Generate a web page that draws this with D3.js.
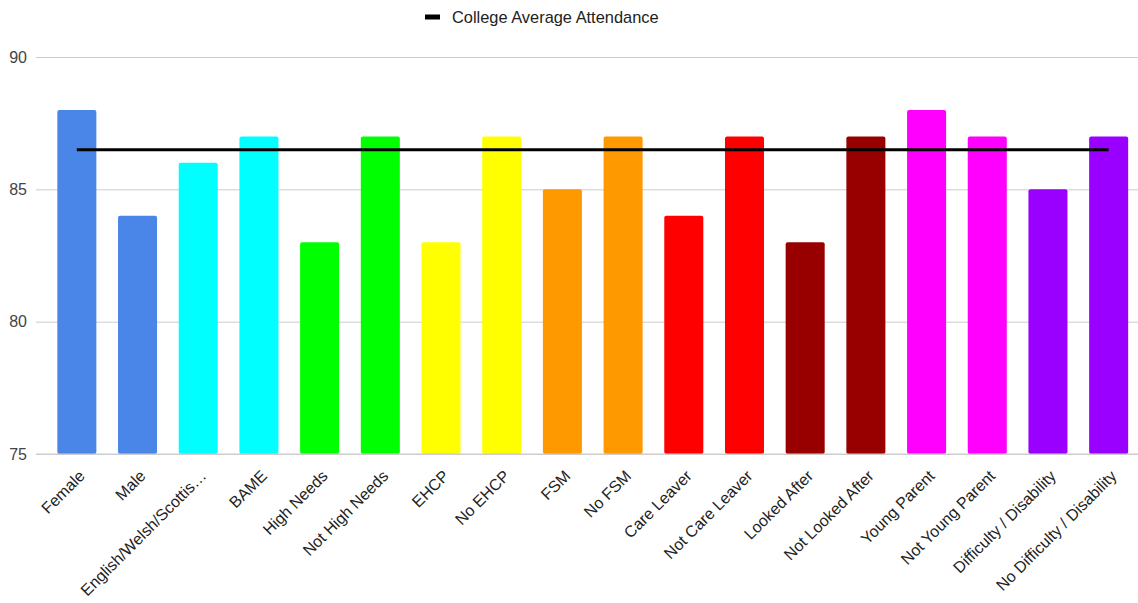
<!DOCTYPE html>
<html>
<head>
<meta charset="utf-8">
<script src="https://cdn.jsdelivr.net/npm/d3@7"></script>
<style>
  body { margin: 0; background: #fff; }
  text { font-family: "Liberation Sans", Arial, sans-serif; }
</style>
</head>
<body>
<div id="chart"></div>
<script>
// data
var categories = ["Female", "Male", "English/Welsh/Scottis\u2026", "BAME", "High Needs", "Not High Needs",
    "EHCP", "No EHCP", "FSM", "No FSM", "Care Leaver", "Not Care Leaver", "Looked After",
    "Not Looked After", "Young Parent", "Not Young Parent", "Difficulty / Disability", "No Difficulty / Disability"];
var attendance = [88, 84, 86, 87, 83, 87, 83, 87, 85, 87, 84, 87, 83, 87, 88, 87, 85, 87];
var barColors = ["#4a86e8", "#4a86e8", "#00ffff", "#00ffff", "#00ff00", "#00ff00", "#ffff00", "#ffff00",
    "#ff9900", "#ff9900", "#ff0000", "#ff0000", "#980000", "#980000", "#ff00ff", "#ff00ff", "#9900ff", "#9900ff"];
var collegeAverage = 86.5;
var yTicks = [75, 80, 85, 90];
var legendLabel = "College Average Attendance";

var W = 1138, H = 603;

var svg = d3.select('#chart')
    .append('svg')
        .attr('width', W)
        .attr('height', H);

var x_scale = d3.scaleBand()
    .domain(categories)
    .range([46.5, 1139])
    .paddingInner(0.357)
    .paddingOuter(0.1785);

var y_scale = d3.scaleLinear()
    .domain([75, 90])
    .range([454, 57]);

// gridlines + y labels
var y_axis = d3.axisLeft(y_scale)
    .tickValues(yTicks)
    .tickSize(-(W - 36))
    .tickFormat(d3.format("d"));

var gy = svg.append("g")
    .attr("class", "y axis")
    .attr("transform", "translate(36,0)")
    .call(y_axis);
gy.select(".domain").remove();
gy.selectAll(".tick line").attr("stroke", "#cccccc").attr("stroke-width", 1);
gy.selectAll(".tick text")
    .attr("x", -9)
    .attr("fill", "#444")
    .style("font-size", "16px");

// bars
svg.selectAll("rect.bar")
    .data(categories)
    .enter()
    .append("rect")
        .attr("class", "bar")
        .attr("x", function(d) { return x_scale(d); })
        .attr("width", x_scale.bandwidth())
        .attr("y", function(d, i) { return y_scale(attendance[i]); })
        .attr("height", function(d, i) { return y_scale(75) - y_scale(attendance[i]); })
        .attr("rx", 2)
        .attr("ry", 2)
        .attr("fill", function(d, i) { return barColors[i]; });

// redraw baseline over the bars
svg.append("line")
    .attr("x1", 36).attr("x2", W)
    .attr("y1", y_scale(75)).attr("y2", y_scale(75))
    .attr("stroke", "#cccccc");

// x labels
var x_axis = d3.axisBottom(x_scale).tickSize(0);
var gx = svg.append("g")
    .attr("class", "x axis")
    .attr("transform", "translate(0," + y_scale(75) + ")")
    .call(x_axis);
gx.select(".domain").remove();
gx.selectAll(".tick text")
    .attr("text-anchor", "end")
    .attr("fill", "#222")
    .style("font-size", "16px")
    .attr("y", 0)
    .attr("dy", 0)
    .attr("transform", "translate(9,23) rotate(-45)");

// college average line
var avgLine = d3.line()
    .x(function(d) { return x_scale(d) + x_scale.bandwidth() / 2; })
    .y(function() { return y_scale(collegeAverage); });

svg.append("path")
    .datum([categories[0], categories[categories.length - 1]])
    .attr("fill", "none")
    .attr("stroke", "#000")
    .attr("stroke-width", 3)
    .attr("d", avgLine);

// legend
svg.append("rect")
    .attr("x", 425).attr("y", 14.5)
    .attr("width", 15).attr("height", 5)
    .attr("fill", "#000");
svg.append("text")
    .attr("x", 452).attr("y", 23)
    .attr("fill", "#222")
    .style("font-size", "16.4px")
    .text(legendLabel);
</script>
</body>
</html>
